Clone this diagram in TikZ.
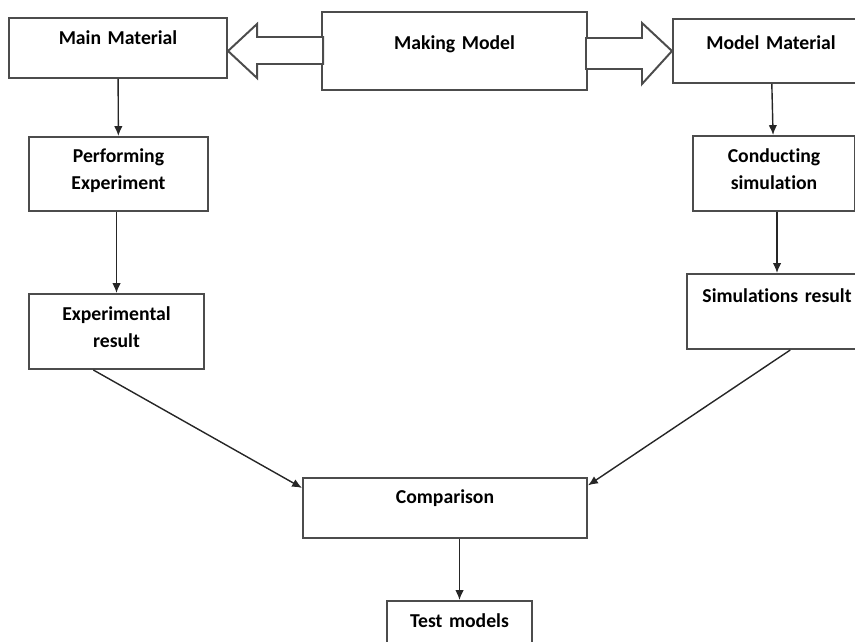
\documentclass[tikz,border=0pt]{standalone}
\usepackage{fontspec}
\setmainfont{Carlito}[Ligatures=NoCommon]
\usetikzlibrary{arrows.meta, calc}

\begin{document}
\begin{tikzpicture}[
    x=0.025cm, y=-0.025cm,
    every node/.style={font=\fontsize{14}{19.2}\selectfont\bfseries},
    box/.style={rectangle, draw=black!70, line width=1.4pt, anchor=north west,
                align=center, inner sep=0pt, text height=0.6625cm},
    blk/.style={draw=black!70, line width=1.4pt, fill=white, line join=miter},
    arr/.style={-{Latex[length=7pt, width=6pt]}, line width=1pt, black!85}
  ]
  \clip (0,0) rectangle (855,641);

  \node[box, text width=5.45cm, text depth=0.8375cm] (main) at (8,17) {Main Material};
  \node[box, text width=6.625cm, text height=0.9375cm, text depth=1.0125cm] (model) at (321,11)
        {Making Model};
  \node[box, text width=4.9cm, text height=0.7625cm, text depth=0.8375cm] (modmat) at (672,18)
        {Model Material};

  \node[box, text width=4.475cm, text height=0.6375cm, text depth=1.2125cm] (perf) at (28,136)
        {Performing\\Experiment};
  \node[box, text width=4.05cm, text depth=1.2125cm] (cond) at (692,135)
        {Conducting\\simulation};

  \node[box, text width=4.375cm, text depth=1.2125cm] (expr) at (28,293)
        {Experimental\\result};
  \node[box, text width=4.5cm, text height=0.7125cm, text depth=1.1625cm] (simr) at (686,273)
        {Simulations result};

  \node[box, text width=7.1cm, text height=0.6375cm, text depth=0.8625cm] (comp) at (302,477)
        {Comparison};
  \node[box, text width=3.625cm, text depth=0.8375cm] (test) at (386,600) {Test models};

  % block arrows
  \draw[blk] (main.east |- model.west) -- ++(29,-27) -- ++(0,13) -- ++(66,0) -- ++(0,27)
        -- ++(-66,0) -- ++(0,14) -- cycle;
  \draw[blk] (modmat.west |- model.east) -- ++(-30,-28) -- ++(0,15) -- ++(-56,0) -- ++(0,31)
        -- ++(56,0) -- ++(0,15) -- cycle;

  \draw[arr] (main) -- (perf);
  \draw[arr] (perf.south -| expr.north) -- (expr.north);
  \draw[arr] (modmat) -- (cond);
  \draw[arr] (cond.south -| simr.north) -- (simr.north);
  \draw[arr] (expr.239) -- (comp.172);
  \draw[arr] (simr.289) -- (comp.9);
  \draw[arr] (comp.south -| test.north) -- (test.north);
\end{tikzpicture}
\end{document}
